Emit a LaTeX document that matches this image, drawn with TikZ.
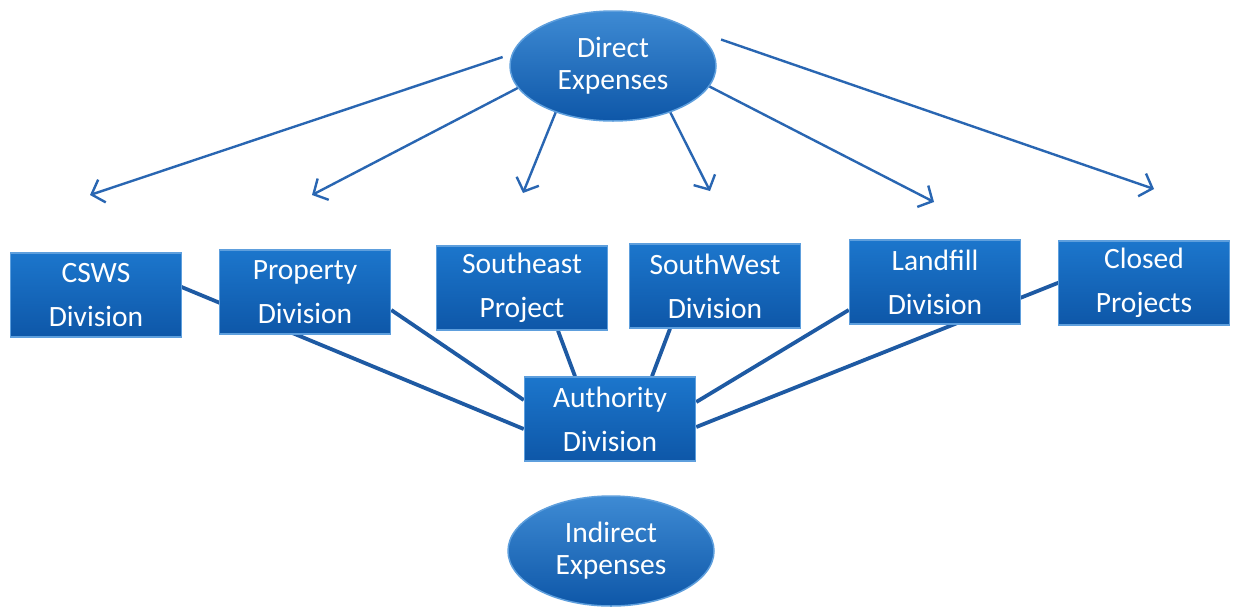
\documentclass[tikz,border=0pt]{standalone}
\usepackage{fontspec}
\setmainfont{Carlito}
\usetikzlibrary{shapes.geometric,arrows.meta,calc}
\pgfdeclarelayer{bg}
\pgfdeclarelayer{back}
\pgfsetlayers{back,bg,main}
\definecolor{boxtop}{HTML}{1C76CC}
\definecolor{boxbot}{HTML}{0E57A8}
\definecolor{boxedge}{HTML}{5E9FDD}
\definecolor{arrowblue}{HTML}{2966B2}
\definecolor{linkblue}{HTML}{1E5AA3}
\tikzset{
  divbox/.style={rectangle, top color=boxtop, bottom color=boxbot, draw=boxedge, line width=1.5pt,
    minimum width=171pt, minimum height=84pt, inner sep=0pt, text=white, align=center,
    font=\fontsize{29.5}{44}\selectfont},
  expell/.style={ellipse, top color=boxtop!85!white, bottom color=boxbot, draw=boxedge, line width=1.5pt,
    minimum width=206pt, minimum height=110pt, inner sep=0pt, text=white, align=center,
    font=\fontsize{29.5}{32}\selectfont},
  fanarrow/.style={draw=arrowblue, line width=2.4pt, -{Straight Barb[length=11pt,width=24pt,line width=2.4pt]}},
  link/.style={draw=linkblue, line width=3.8pt}
}
\begin{document}
\begin{tikzpicture}[x=1pt,y=-1pt]
\useasboundingbox (0,0) rectangle (1236,611);
\begin{pgfonlayer}{back}
\fill[white] (0,0) rectangle (1236,611);
\end{pgfonlayer}

\node[expell] (de) at (613,66) {Direct\\Expenses};
\node[expell] (ie) at (611,551) {Indirect\\Expenses};

\node[divbox] (cs) at (96,295) {CSWS\\Division};
\node[divbox] (pr) at (305,292) {Property\\Division};
\node[divbox] (se) at (522,288) {Southeast\\Project};
\node[divbox] (sw) at (715,286) {SouthWest\\Division};
\node[divbox] (lf) at (935,282) {Landfill\\Division};
\node[divbox] (cl) at (1144,283) {Closed\\Projects};
\node[divbox] (au) at (610,419) {Authority\\Division};

\coordinate (t1) at (90,195);
\coordinate (t2) at (312,195);
\coordinate (t3) at (523,193);
\coordinate (t4) at (710,191);
\coordinate (t5) at (934,202);
\coordinate (t6) at (1154,189);

\draw[fanarrow] ($(de.175)+(-8,0)$) -- (t1);
\draw[fanarrow] (de.193) -- (t2);
\draw[fanarrow] (de.219) -- (t3);
\draw[fanarrow] (de.321) -- (t4);
\draw[fanarrow] (de.348) -- (t5);
\draw[fanarrow] ($(de.14)+(14,-3)$) -- (t6);

\begin{pgfonlayer}{bg}
\draw[link] ($(cs.east)+(-20,-16)$) -- ($(au.west)+(0,10)$);
\draw[link] ($(pr.east)+(0,18)$) -- ($(au.west)+(0,-19)$);
\draw[link] ($(se.south)+(36,0)$) -- ($(au.north)+(-35,0)$);
\draw[link] ($(sw.south)+(-45,0)$) -- ($(au.north)+(42,0)$);
\draw[link] ($(lf.west)+(0,28)$) -- ($(au.east)+(0,-17)$);
\draw[link] ($(cl.west)+(10,-4)$) -- ($(au.east)+(0,8)$);
\end{pgfonlayer}
\end{tikzpicture}
\end{document}
